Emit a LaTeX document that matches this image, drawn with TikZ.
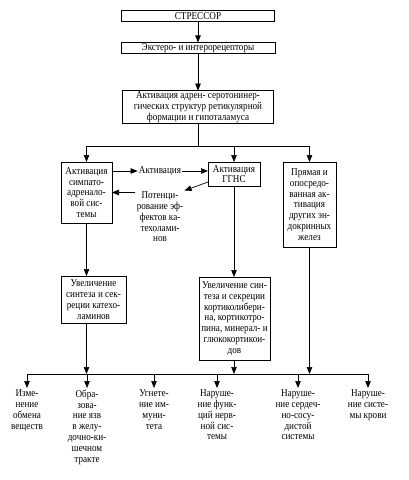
\documentclass[tikz,border=0pt]{standalone}
\usepackage{fontspec}
\setmainfont{Liberation Serif}[FakeStretch=0.87]
\usetikzlibrary{arrows.meta,positioning}

\begin{document}
\begin{tikzpicture}[x=1pt,y=-1pt,line width=0.7pt,
                    >={Triangle[length=7pt,width=5.5pt]},
                    font=\fontsize{10.5}{10.8}\selectfont,
                    box/.style={draw,align=center,inner sep=1pt,outer sep=0pt},
                    lbl/.style={align=center,inner sep=1pt},
                    res/.style={align=center,anchor=north,inner sep=1.5pt}]
                      \useasboundingbox (0,0) rectangle (409,480);
                      \node[box,minimum width=153pt,minimum height=11pt] (stressor) at (198,16) {СТРЕССОР};
                      \node[box,minimum width=154pt,minimum height=10pt] (recept) at (198,48) {Экстеро- и интерорецепторы};
                      \node[box,minimum width=151pt,minimum height=32pt] (activ) at (198,107)
                      {Активация адрен- серотонинер-\\гических структур ретикулярной\\формации и гипоталамуса};
                      \node[box,minimum width=51pt,minimum height=61pt] (sas) at (86.5,192.5)
                      {Активация\\симпато-\\адренало-\\вой сис-\\темы};
                      \node[box,minimum width=52pt,minimum height=24pt] (ggns) at (234,174) {Активация\\ГГНС};
                      \node[box,minimum width=53pt,minimum height=85pt] (other) at (309.5,204.5)
                      {Прямая и\\опосредо-\\ванная ак-\\тивация\\других эн-\\докринных\\желез};
                      \node[lbl] (akt) at (160,171) {Активация};
                      \node[lbl,minimum width=46pt] (potenc) at (160,217)
                      {Потенци-\\рование эф-\\фектов ка-\\техолами-\\нов};
                      \node[box,minimum width=65pt,minimum height=47pt] (catech) at (93.5,299.5)
                      {Увеличение\\синтеза и сек-\\реции катехо-\\ламинов};
                      \node[box,minimum width=71pt,minimum height=83pt] (cortico) at (234.5,318.5)
                      {Увеличение син-\\теза и секреции\\кортиколибери-\\на, кортикотро-\\пина, минерал- и\\глюкокортикои-\\дов};
                      % results
                      \node[res] (out_1) at (27,388) {Изме-\\нение\\обмена\\веществ};
                      \node[res] (out_2) at (87,388) {Обра-\\зова-\\ние язв\\в желу-\\дочно-ки-\\шечном\\тракте};
                      \node[res] (out_3) at (154,388) {Угнете-\\ние им-\\муни-\\тета};
                      \node[res] (out_4) at (217,388) {Наруше-\\ние функ-\\ций нерв-\\ной сис-\\темы};
                      \node[res] (out_5) at (298,388) {Наруше-\\ние сердеч-\\но-сосу-\\дистой\\системы};
                      \node[res] (out_6) at (368,388) {Наруше-\\ние систе-\\мы крови};
                      \coordinate (split) at (198,146);
                      \coordinate (bl) at (27,374);
                      \coordinate (br) at (368,374);
                      \draw[->] (stressor) -- (recept);
                      \draw[->] (recept) -- (activ);
                      \draw (activ) -- (split);
                      \draw (sas.north |- split) -- (other.north |- split);
                      \draw[->] (sas.north |- split) -- (sas.north);
                      \draw[->] (ggns.north |- split) -- (ggns.north);
                      \draw[->] (other.north |- split) -- (other.north);
                      \draw[->] (sas.east |- akt.west) -- (akt.west);
                      \draw[->] (akt.east) -- (akt.east -| ggns.west);
                      \draw[->] ([yshift=4pt]ggns.south west) -- (potenc.north east);
                      \draw[->] (potenc.west |- sas.east) -- (sas.east);
                      \draw[->] (sas) -- (sas |- catech.north);
                      \draw[->] (ggns) -- (ggns |- cortico.north);
                      % bottom line
                      \draw (bl) -- (br);
                      \draw[->] (sas |- catech.south) -- (sas |- bl);
                      \draw[->] (ggns |- cortico.south) -- (ggns |- bl);
                      \draw[->] (other) -- (other |- bl);
                      \foreach \n in {out_1,out_2,out_3,out_4,out_5,out_6}
                      \draw[->] (\n |- bl) -- (\n.north);
                  \end{tikzpicture}
\end{document}
